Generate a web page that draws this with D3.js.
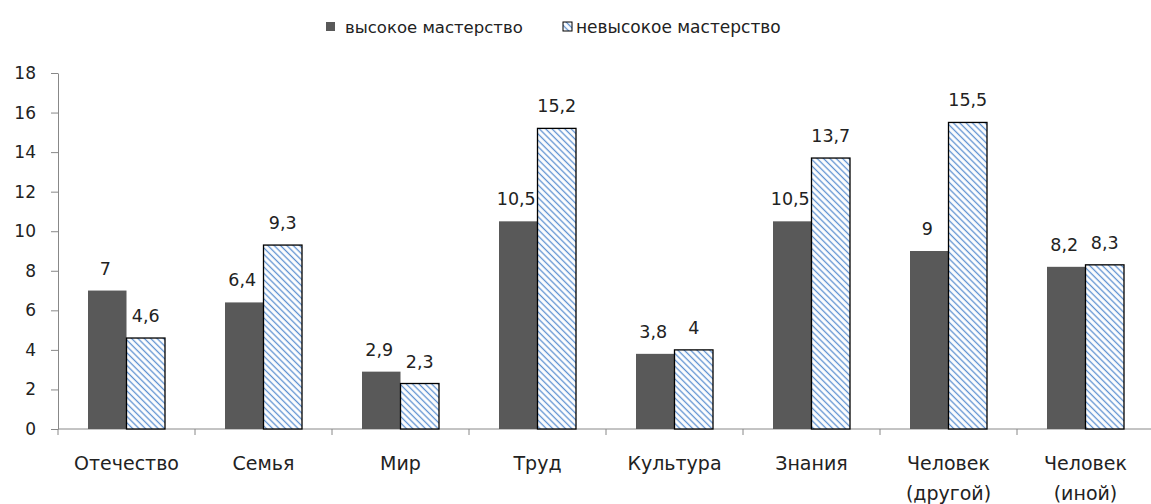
<!DOCTYPE html>
<html><head><meta charset="utf-8">
<script src="https://cdn.jsdelivr.net/npm/d3@7"></script>
<style>body{margin:0;background:#fff;} text{font-family:"DejaVu Sans",Verdana,sans-serif;}</style>
</head><body><svg id="c" width="1151" height="504"></svg>
<script>
const categories = [["Отечество"],["Семья"],["Мир"],["Труд"],["Культура"],["Знания"],["Человек","(другой)"],["Человек","(иной)"]];
const seriesNames = ["высокое мастерство","невысокое мастерство"];
const high = [7,6.4,2.9,10.5,3.8,10.5,9,8.2];
const low = [4.6,9.3,2.3,15.2,4,13.7,15.5,8.3];
const yTicks = [0,2,4,6,8,10,12,14,16,18];

(function(){
const svg = d3.select("#c");
const defs = svg.append("defs");
const pat = defs.append("pattern").attr("id","hatch").attr("patternUnits","userSpaceOnUse")
  .attr("width",4.5).attr("height",4.5).attr("patternTransform","rotate(45)");
pat.append("rect").attr("width",4.5).attr("height",4.5).attr("fill","#fff");
pat.append("line").attr("x1",0).attr("y1",2.25).attr("x2",4.5).attr("y2",2.25)
  .attr("stroke","#5b8fd0").attr("stroke-width",1.3);

const left=58, right=1154, topY=73, bottom=429;
const x = d3.scaleBand().domain(d3.range(categories.length)).range([left,right]);
const y = d3.scaleLinear().domain([0,18]).range([bottom,topY]);
const bw = 38.5;

const yAx = svg.append("g").attr("transform",`translate(${left},0)`)
  .call(d3.axisLeft(y).tickValues(yTicks).tickSize(7).tickSizeOuter(0));
yAx.select(".domain").attr("stroke","#888");
yAx.selectAll(".tick line").attr("stroke","#888");
yAx.selectAll(".tick text").attr("font-size",17).attr("fill","#222").attr("x",-22).attr("font-family","DejaVu Sans");

const xAx = svg.append("g").attr("transform",`translate(0,${bottom})`);
xAx.append("line").attr("x1",left).attr("x2",right).attr("stroke","#888");
xAx.selectAll("line.t").data(d3.range(categories.length+1)).join("line").attr("class","t")
  .attr("x1",i=>left+i*x.bandwidth()).attr("x2",i=>left+i*x.bandwidth())
  .attr("y1",0).attr("y2",6).attr("stroke","#888");

categories.forEach((c,i)=>{
  const t = svg.append("text").attr("text-anchor","middle").attr("font-size",19).attr("fill","#222")
    .attr("x",x(i)+x.bandwidth()/2).attr("y",470);
  c.forEach((l,j)=>t.append("tspan").attr("x",x(i)+x.bandwidth()/2).attr("dy",j?30:0).text(l));
});

const cx = i=>x(i)+x.bandwidth()/2;
svg.selectAll("rect.h").data(high).join("rect").attr("class","h")
  .attr("x",(d,i)=>cx(i)-bw).attr("width",bw).attr("y",d=>y(d)).attr("height",d=>bottom-y(d)).attr("fill","#595959");
svg.selectAll("rect.l").data(low).join("rect").attr("class","l")
  .attr("x",(d,i)=>cx(i)).attr("width",bw).attr("y",d=>y(d)).attr("height",d=>bottom-y(d))
  .attr("fill","url(#hatch)").attr("stroke","#000").attr("stroke-width",1.3);

const fmt = d=>String(d).replace(".",",");
svg.selectAll("text.hv").data(high).join("text").attr("class","hv").attr("text-anchor","middle")
  .attr("font-size",17.5).attr("fill","#222").attr("x",(d,i)=>cx(i)-bw/2-2).attr("y",d=>y(d)-16).text(fmt);
svg.selectAll("text.lv").data(low).join("text").attr("class","lv").attr("text-anchor","middle")
  .attr("font-size",17.5).attr("fill","#222").attr("x",(d,i)=>cx(i)+bw/2).attr("y",d=>y(d)-16).text(fmt);

const lg = svg.append("g");
lg.append("rect").attr("x",326).attr("y",22).attr("width",9).attr("height",9).attr("fill","#595959");
lg.append("text").attr("x",345).attr("y",33).attr("font-size",16.5).attr("fill","#222").text(seriesNames[0]);
lg.append("rect").attr("x",563).attr("y",22).attr("width",9).attr("height",9).attr("fill","url(#hatch)").attr("stroke","#000");
lg.append("text").attr("x",576).attr("y",33).attr("font-size",17).attr("fill","#222").text(seriesNames[1]);
})();
</script></body></html>
